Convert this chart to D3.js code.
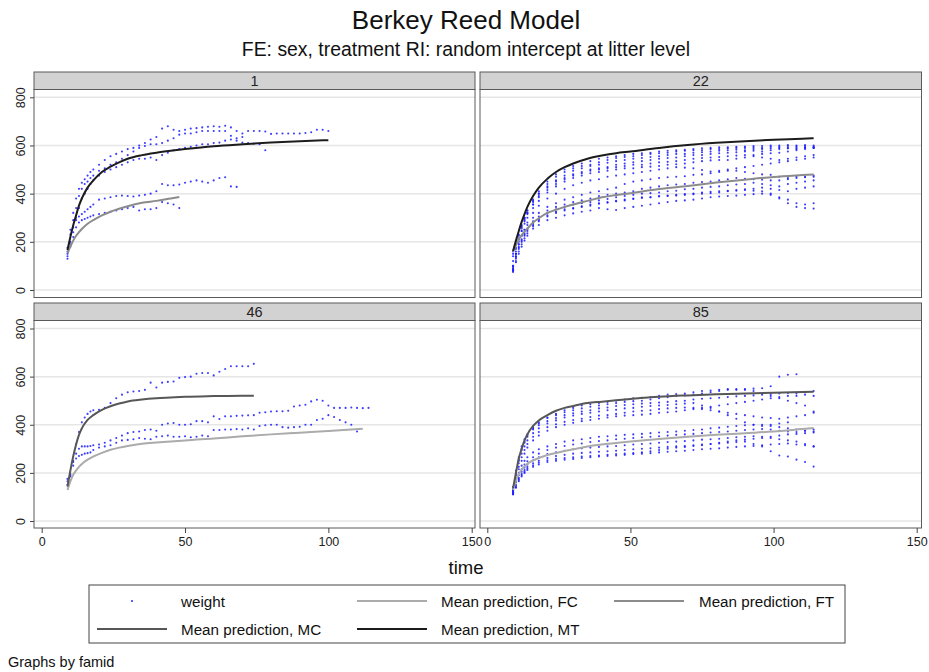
<!DOCTYPE html>
<html>
<head>
<meta charset="utf-8">
<script src="https://cdn.jsdelivr.net/npm/d3@7/dist/d3.min.js"></script>
<style>
  body { margin: 0; background: #fff; }
  svg { font-family: "Liberation Sans", Arial, sans-serif; }
</style>
</head>
<body>
<div id="chart"></div>
<script>
const timesA = [9,10,11,12,13,14,15,16,17,18,20,22,24,26,28,30,32,34,36,38,40,42,44,46,48,50,52,54,56,58,60,62,64,66,68,70,72,74,76,78,80,82,84,86,88,90,92,94,96,98,100,102,104,106,108,110,112,114];
const timesB = [9,10,11,12,13,14,16,18,21,24,27,30,33,36,39,42,45,48,51,54,57,60,63,66,69,72,75,78,81,84,87,90,93,96,99,102,105,108,111,114];

// famid 1 (timesA)
const p1a = [175,250,320,380,420,445,460,475,490,500,520,540,555,565,575,585,590,600,610,625,635,670,680,665,660,665,670,672,675,678,680,678,682,675,660,650,660,660,660,658,648,650,650,650,650,650,652,655,665,665,660];
const p1b = [160,230,290,340,390,420,440,450,465,475,495,505,520,530,545,560,575,590,598,605,605,610,620,630,645,650,650,655,660,660,660,660,660,640,620,612,610,608,605,580];
const p1c = [150,200,260,300,340,380,400,420,440,455,475,490,500,510,520,530,540,545,545,550,540,560,570,580,585,590,595,600,605,605,610,612,620,625,630,635];
const p1d = [140,190,240,290,305,315,325,335,345,355,375,380,385,390,392,390,388,392,395,400,410,440,435,435,438,445,450,455,450,445,455,465,468,430,428];
const p1e = [130,180,220,260,280,290,295,300,305,310,315,320,325,330,335,340,345,330,335,335,340,365,360,355,340];

// famid 46 (timesA)
const p46a = [175,195,250,320,370,410,430,445,455,460,462,470,490,510,525,535,538,540,545,575,555,575,578,580,595,598,600,612,615,615,605,620,632,643,643,643,643,653];
const p46b = [165,190,245,280,300,310,310,310,312,315,318,325,335,345,355,365,370,372,378,380,375,400,405,407,400,400,402,415,415,410,435,424,435,435,437,438,439,440,450,452,455,456,456,458,476,480,483,497,504,500,480,470,470,470,472,470,469,470];
const p46c = [150,185,230,260,270,275,280,282,285,295,305,310,315,325,335,337,340,345,342,340,350,352,355,350,350,352,348,350,355,352,378,378,380,380,382,380,385,380,395,398,400,400,390,388,390,392,400,400,420,425,440,432,420,410,400,372];

// famid 22 (timesB)
const p22u1 = [85,150,210,260,300,330,375,410,450,480,500,515,525,535,545,550,555,560,565,568,570,575,578,580,582,585,588,590,592,592,595,596,598,598,600,600,602,600,602,600];
const p22u2 = [80,140,200,245,290,320,365,400,440,470,490,505,515,520,530,540,548,552,555,560,565,568,570,575,578,580,580,585,585,588,590,590,592,590,595,595,598,596,598,595];
const p22u3 = [90,160,215,255,285,315,355,390,425,455,475,495,505,515,520,528,535,540,545,548,552,555,560,565,565,570,572,575,578,580,582,580,585,585,588,590,590,585,592,590];
const p22u4 = [150,175,225,265,300,330,370,400,430,450,465,480,490,500,505,510,520,525,530,535,540,545,548,550,555,560,560,565,568,570,572,575,578,575,580,585,588,590,590,592];
const p22u5 = [160,190,230,270,295,320,355,385,415,440,460,475,485,495,500,505,510,515,520,520,525,530,532,535,540,545,548,550,552,555,558,560,560,565,568,570,575,580,585,590];
const p22u6 = [140,170,210,245,275,300,340,370,405,430,450,465,475,485,490,495,500,505,505,510,512,515,520,522,525,530,535,538,540,540,545,550,555,550,545,540,545,550,555,560];
const p22u7 = [120,150,190,225,250,280,320,350,380,400,420,435,445,455,460,470,475,480,485,490,495,500,505,510,508,505,498,492,495,500,505,510,515,520,525,530,535,540,545,550];
const p22l1 = [100,150,190,225,250,270,300,320,345,360,375,385,395,405,410,418,425,440,450,455,460,465,468,470,472,478,480,485,490,495,495,490,485,480,478,470,465,470,468,470];
const p22l2 = [95,140,180,210,235,255,285,305,330,345,355,365,372,380,390,395,400,405,410,420,425,430,435,438,440,445,448,450,455,460,465,462,460,458,455,455,460,465,470,475];
const p22l3 = [85,130,170,200,225,245,275,295,320,335,345,355,360,365,372,378,385,390,395,400,402,405,410,412,418,420,425,428,430,435,438,440,445,440,435,430,440,445,450,455];
const p22l4 = [80,120,160,190,215,235,265,285,305,320,330,338,345,350,358,362,368,372,378,382,385,390,392,395,398,400,405,408,410,412,415,418,420,425,420,415,410,420,425,430];
const p22l5 = [75,115,150,180,205,225,255,270,290,300,310,318,325,330,340,335,332,340,345,350,355,360,365,370,372,375,380,385,388,390,392,395,398,400,395,385,375,360,355,360];
const p22l6 = [100,135,175,205,230,250,270,290,310,325,335,340,348,355,360,365,370,375,380,385,385,388,390,392,395,398,400,402,405,410,412,415,412,410,400,380,360,345,340,338];

// famid 85 (timesB)
const p85m1 = [130,200,255,300,330,355,385,405,430,445,460,470,480,485,490,495,500,505,510,512,515,520,525,528,530,535,540,542,545,548,545,548,550,552,560,600,608,610,null,null];
const p85m2 = [140,210,265,310,340,360,390,410,428,440,452,460,468,475,480,485,490,495,498,500,505,510,515,520,522,525,530,535,540,545,548,545,540,530,520,510,500,490,480,455];
const p85m3 = [135,195,250,295,325,350,380,398,415,428,440,448,455,460,468,472,478,482,485,488,490,492,495,498,500,505,508,510,512,515,518,520,522,525,528,530,532,530,535,540];
const p85m4 = [140,190,240,280,310,335,365,385,405,418,430,438,445,450,455,460,462,468,470,475,478,480,482,485,488,490,480,470,455,440,425,410,400,395,400,405,410,null,null,null];
const p85m5 = [130,180,225,265,295,320,350,370,390,402,412,420,425,432,438,440,445,450,455,458,460,465,468,470,472,470,465,460,455,450,445,440,435,430,428,425,430,435,440,450];
const p85m6 = [128,175,215,250,280,305,335,355,375,390,400,408,415,420,425,430,435,438,440,442,445,450,452,455,460,465,470,475,480,485,490,495,500,505,510,515,520,520,525,520];
const p85f1 = [125,165,200,230,250,265,285,298,310,320,330,335,340,345,350,352,355,358,360,362,365,368,370,372,375,378,380,385,388,392,395,398,400,400,395,390,385,380,375,372];
const p85f2 = [120,160,190,215,235,248,265,280,295,305,312,318,322,328,332,335,340,342,345,348,350,352,355,358,360,362,365,368,370,372,375,378,380,382,380,375,372,370,375,380];
const p85f3 = [118,150,180,205,222,235,252,265,278,285,292,298,302,305,308,310,312,315,318,320,322,325,328,330,332,335,338,340,342,345,348,350,352,350,345,340,335,330,320,310];
const p85f4 = [115,145,175,195,212,225,240,250,262,270,275,280,283,285,288,290,292,295,298,300,302,305,308,310,312,315,318,320,322,325,328,330,320,310,290,272,268,255,245,226];
const p85f5 = [112,140,170,190,205,218,232,242,252,258,262,265,268,270,272,275,278,280,282,285,290,295,300,305,308,312,315,320,325,330,335,338,342,345,350,355,360,362,365,368];
const p85f6 = [110,138,165,185,200,212,225,235,245,250,255,258,262,265,268,270,272,275,278,280,282,285,288,290,292,295,298,300,302,305,308,310,312,315,318,320,322,318,315,310];

// Mean prediction curves
const curveTimesLong = [9,10,11,12,13,14,16,18,21,24,27,30,35,40,45,50,60,70,80,90,100,110,114];
const curveTimesP1MT = [9,10,11,12,13,14,16,18,21,24,27,30,35,40,45,50,60,70,80,90,100];
const curveTimesP1FT = [9,10,11,12,13,14,16,18,21,24,27,30,35,40,45,48];
const curveTimesP46MC = [9,10,11,12,13,14,16,18,21,24,27,30,35,40,45,50,60,70,74];
const curveTimesP46FC = [9,10,11,12,13,14,16,18,21,24,27,30,35,40,45,50,60,70,80,90,100,112];

const p1MT = [166,220,269,310,350,380,425,455,490,512,530,545,560,570,578,585,597,605,612,618,622];
const p1FT = [152,180,205,225,240,253,275,290,310,325,337,348,362,370,380,386];
const p22MT = [162,205,245,283,315,345,390,425,462,490,510,525,545,558,568,575,590,602,611,618,624,628,630];
const p22FT = [159,185,210,228,242,255,280,298,320,333,345,355,370,385,394,402,419,432,446,458,469,477,480];
const p46MC = [143,210,269,318,358,385,420,440,462,477,488,497,505,510,513,516,519,521,521];
const p46FC = [129,165,192,210,225,237,255,268,283,296,305,312,321,326,330,335,343,352,360,367,374,383];
const p85MC = [136,200,260,300,335,360,395,418,440,458,470,478,490,496,502,507,516,522,527,530,533,536,537];
const p85FC = [129,168,195,213,227,238,252,262,274,283,291,298,310,318,324,330,341,350,358,365,372,382,386];

const yTicks = [0, 200, 400, 600, 800];
const xTicks = [0, 50, 100, 150];

const lineColors = { FC: "#ababab", FT: "#8c8c8c", MC: "#575757", MT: "#1c1c1c" };
const dotColor = "#1a1aff";

const panels = [
  { label: "1", col: 0, row: 0, times: timesA, series: [p1a, p1b, p1c, p1d, p1e],
    curves: [{ key: "FT", t: curveTimesP1FT, v: p1FT }, { key: "MT", t: curveTimesP1MT, v: p1MT }] },
  { label: "22", col: 1, row: 0, times: timesB,
    series: [p22u1, p22u2, p22u3, p22u4, p22u5, p22u6, p22u7, p22l1, p22l2, p22l3, p22l4, p22l5, p22l6],
    curves: [{ key: "FT", t: curveTimesLong, v: p22FT }, { key: "MT", t: curveTimesLong, v: p22MT }] },
  { label: "46", col: 0, row: 1, times: timesA, series: [p46a, p46b, p46c],
    curves: [{ key: "FC", t: curveTimesP46FC, v: p46FC }, { key: "MC", t: curveTimesP46MC, v: p46MC }] },
  { label: "85", col: 1, row: 1, times: timesB,
    series: [p85m1, p85m2, p85m3, p85m4, p85m5, p85m6, p85f1, p85f2, p85f3, p85f4, p85f5, p85f6],
    curves: [{ key: "FC", t: curveTimesLong, v: p85FC }, { key: "MC", t: curveTimesLong, v: p85MC }] }
];

// Layout
const W = 929, H = 672;
const colBox = [{ x0: 34, x1: 475, r0: 41.7, r1: 471.7 }, { x0: 480, x1: 921.5, r0: 487.3, r1: 916.7 }];
const rowBox = [{ top: 72, head: 17.5, bottom: 297.5, y0: 290, y1: 97.3 },
                { top: 303, head: 17.5, bottom: 528, y0: 521, y1: 328.5 }];

const svg = d3.select("#chart").append("svg")
  .attr("width", W).attr("height", H);

svg.append("rect").attr("width", W).attr("height", H).attr("fill", "#fff");

// Titles
svg.append("text").attr("x", 466).attr("y", 29)
  .attr("text-anchor", "middle").style("font-size", "26px").attr("fill", "#111")
  .text("Berkey Reed Model");
svg.append("text").attr("x", 466).attr("y", 56)
  .attr("text-anchor", "middle").style("font-size", "19.4px").attr("fill", "#111")
  .text("FE: sex, treatment RI: random intercept at litter level");

panels.forEach(p => {
  const c = colBox[p.col], r = rowBox[p.row];
  const x = d3.scaleLinear().domain([0, 150]).range([c.r0, c.r1]);
  const y = d3.scaleLinear().domain([0, 800]).range([r.y0, r.y1]);
  const g = svg.append("g");
  const plotTop = r.top + r.head;

  // header strip
  g.append("rect").attr("x", c.x0).attr("y", r.top)
    .attr("width", c.x1 - c.x0).attr("height", r.head)
    .attr("fill", "#d2d2d2").attr("stroke", "#5a5a5a").attr("stroke-width", 1);
  g.append("text").attr("x", (c.x0 + c.x1) / 2).attr("y", r.top + 14)
    .attr("text-anchor", "middle").style("font-size", "14.5px").attr("fill", "#222")
    .text(p.label);

  // gridlines
  g.selectAll(".grid").data(yTicks).enter().append("line")
    .attr("x1", c.x0).attr("x2", c.x1)
    .attr("y1", d => y(d)).attr("y2", d => y(d))
    .attr("stroke", "#e6e6e6").attr("stroke-width", 1.5);

  // weight dots
  const pts = [];
  p.series.forEach(s => s.forEach((v, i) => { if (v != null) pts.push([p.times[i], v]); }));
  g.selectAll(".dot").data(pts).enter().append("circle")
    .attr("cx", d => x(d[0])).attr("cy", d => y(d[1]))
    .attr("r", 1.05).attr("fill", dotColor).attr("opacity", 0.85);

  // mean prediction curves
  const line = d3.line().x(d => x(d[0])).y(d => y(d[1])).curve(d3.curveMonotoneX);
  p.curves.forEach(cv => {
    g.append("path")
      .attr("d", line(cv.t.map((t, i) => [t, cv.v[i]])))
      .attr("fill", "none").attr("stroke", lineColors[cv.key]).attr("stroke-width", 2);
  });

  // panel border
  g.append("rect").attr("x", c.x0).attr("y", plotTop)
    .attr("width", c.x1 - c.x0).attr("height", r.bottom - plotTop)
    .attr("fill", "none").attr("stroke", "#5a5a5a").attr("stroke-width", 1);

  // y axis on left column
  if (p.col === 0) {
    const ya = g.append("g").attr("transform", `translate(${c.x0},0)`)
      .call(d3.axisLeft(y).tickValues(yTicks).tickSize(4));
    ya.select(".domain").remove();
    ya.selectAll(".tick line").attr("stroke", "#444");
    ya.selectAll(".tick text")
      .attr("transform", "rotate(-90)")
      .attr("x", 0).attr("y", -9).attr("dy", 0)
      .attr("text-anchor", "middle")
      .style("font-size", "12.5px").attr("fill", "#222")
      .style("font-family", "'Liberation Sans', Arial, sans-serif");
  }

  // x axis on bottom row
  if (p.row === 1) {
    const xa = g.append("g").attr("transform", `translate(0,${r.bottom})`)
      .call(d3.axisBottom(x).tickValues(xTicks).tickSize(5).tickPadding(4));
    xa.select(".domain").remove();
    xa.selectAll(".tick line").attr("stroke", "#444");
    xa.selectAll(".tick text").style("font-size", "12.5px").attr("fill", "#222")
      .style("font-family", "'Liberation Sans', Arial, sans-serif");
  }
});

// x axis title
svg.append("text").attr("x", 466).attr("y", 574)
  .attr("text-anchor", "middle").style("font-size", "18.5px").attr("fill", "#111")
  .text("time");

// Legend
const legend = svg.append("g");
legend.append("rect").attr("x", 89).attr("y", 585).attr("width", 756).attr("height", 58)
  .attr("fill", "#fff").attr("stroke", "#444").attr("stroke-width", 1);

const legendItems = [
  { label: "weight", type: "dot", lx: 97, tx: 181, y: 601 },
  { label: "Mean prediction, FC", type: "FC", lx: 357, tx: 441, y: 601 },
  { label: "Mean prediction, FT", type: "FT", lx: 614, tx: 699, y: 601 },
  { label: "Mean prediction, MC", type: "MC", lx: 97, tx: 181, y: 629 },
  { label: "Mean prediction, MT", type: "MT", lx: 357, tx: 441, y: 629 }
];
legendItems.forEach(it => {
  if (it.type === "dot") {
    legend.append("circle").attr("cx", it.lx + 35).attr("cy", it.y)
      .attr("r", 0.95).attr("fill", dotColor);
  } else {
    legend.append("line").attr("x1", it.lx).attr("x2", it.lx + 70)
      .attr("y1", it.y).attr("y2", it.y)
      .attr("stroke", lineColors[it.type]).attr("stroke-width", 2);
  }
  legend.append("text").attr("x", it.tx).attr("y", it.y + 5.5)
    .style("font-size", "15.2px").attr("fill", "#111").text(it.label);
});

svg.append("text").attr("x", 8).attr("y", 667)
  .style("font-size", "14.5px").attr("fill", "#111")
  .text("Graphs by famid");
</script>
</body>
</html>
